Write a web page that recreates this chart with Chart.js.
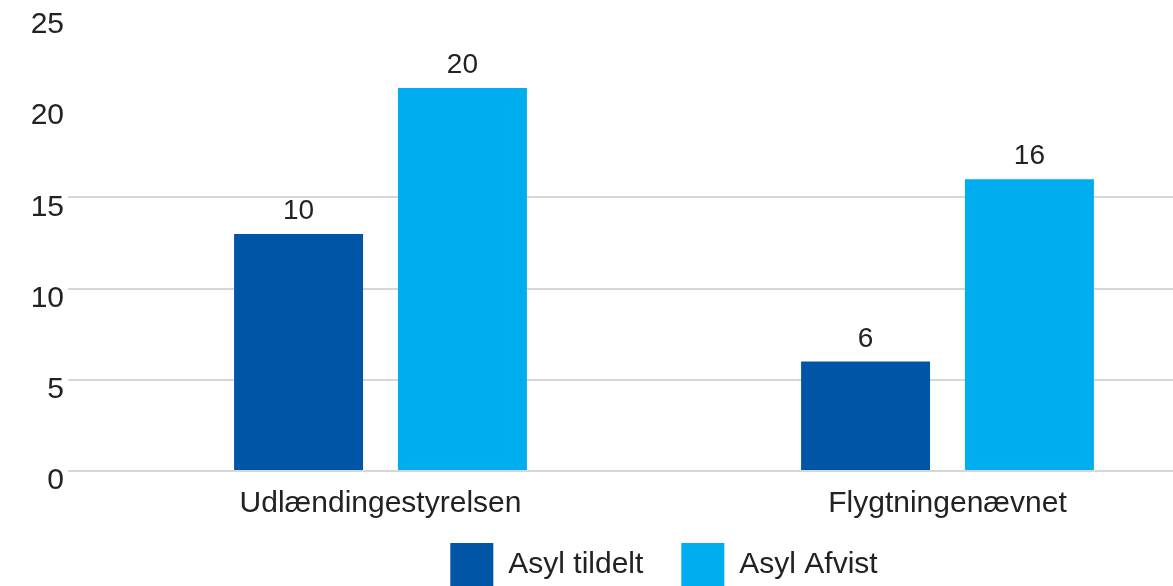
<!DOCTYPE html>
<html>
<head>
<meta charset="utf-8">
<script src="https://cdn.jsdelivr.net/npm/chart.js@4"></script>
<style>
  html, body { margin: 0; padding: 0; background: #fff; overflow: hidden; }
  #wrap { width: 1232px; height: 628px; position: relative; }
</style>
</head>
<body>
<div id="wrap"><canvas id="asylChart"></canvas></div>
<script>
'use strict';

// Data
const categories = ['Udlændingestyrelsen', 'Flygtningenævnet'];
const seriesNames = ['Asyl tildelt', 'Asyl Afvist'];
// bar heights as drawn
const tildeltValues = [13, 6];
const afvistValues = [21, 16];
// numbers printed above the bars (not always equal to the bar height)
const tildeltLabels = ['10', '6'];
const afvistLabels = ['20', '16'];
const yMin = 0;
const yMax = 25;
const yStep = 5;

const FONT = "'Liberation Sans', Arial, sans-serif";

// labels over each bar
const barLabels = {
  id: 'barLabels',
  afterDatasetsDraw(chart) {
    const ctx = chart.ctx;
    ctx.save();
    ctx.font = '28px ' + FONT;
    ctx.fillStyle = '#222';
    ctx.textAlign = 'center';
    ctx.textBaseline = 'alphabetic';
    chart.data.datasets.forEach((ds, i) => {
      chart.getDatasetMeta(i).data.forEach((bar, j) => {
        ctx.fillText(ds.valueLabels[j], bar.x, bar.y - 15);
      });
    });
    ctx.restore();
  },
};

// pull the legend closer to the axis labels
const legendNudge = {
  id: 'legendNudge',
  afterLayout(chart) {
    chart.legend.top -= 32;
    chart.legend.bottom -= 32;
  },
};

const asylData = {
  labels: categories,
  datasets: [
    {
      label: seriesNames[0],
      backgroundColor: '#0055a6',
      data: tildeltValues,
      valueLabels: tildeltLabels,
    },
    {
      label: seriesNames[1],
      backgroundColor: '#00adee',
      data: afvistValues,
      valueLabels: afvistLabels,
    },
  ],
};

const asylConfig = {
  type: 'bar',
  data: asylData,
  options: {
    responsive: true,
    maintainAspectRatio: false,
    animation: false,
    datasets: {
      bar: { categoryPercentage: 0.578, barPercentage: 0.787 },
    },
    layout: { padding: { top: 0, right: 1, bottom: 0, left: 0 } },
    plugins: {
      tooltip: { enabled: false },
      legend: {
        position: 'bottom',
        fullSize: false,
        labels: {
          boxWidth: 43,
          boxHeight: 43,
          padding: 38,
          color: '#222',
          font: { family: FONT, size: 30 },
        },
      },
    },
    scales: {
      x: {
        grid: { display: false, drawTicks: false },
        border: { display: false },
        ticks: { color: '#222', padding: 15, font: { family: FONT, size: 30 } },
      },
      y: {
        min: yMin,
        max: yMax,
        afterFit(scale) {
          scale.width = 97;
          scale.paddingTop = 15;
        },
        border: { display: false },
        grid: {
          lineWidth: 2,
          tickLength: 29,
          color: (c) => (c.tick && c.tick.value > 15 ? 'rgba(0,0,0,0)' : '#d6d6d6'),
        },
        ticks: {
          stepSize: yStep,
          color: '#222',
          padding: 4,
          labelOffset: 10,
          font: { family: FONT, size: 30 },
        },
      },
    },
  },
  plugins: [barLabels, legendNudge],
};

const asylChart = new Chart(document.getElementById('asylChart'), asylConfig);
</script>
</body>
</html>
